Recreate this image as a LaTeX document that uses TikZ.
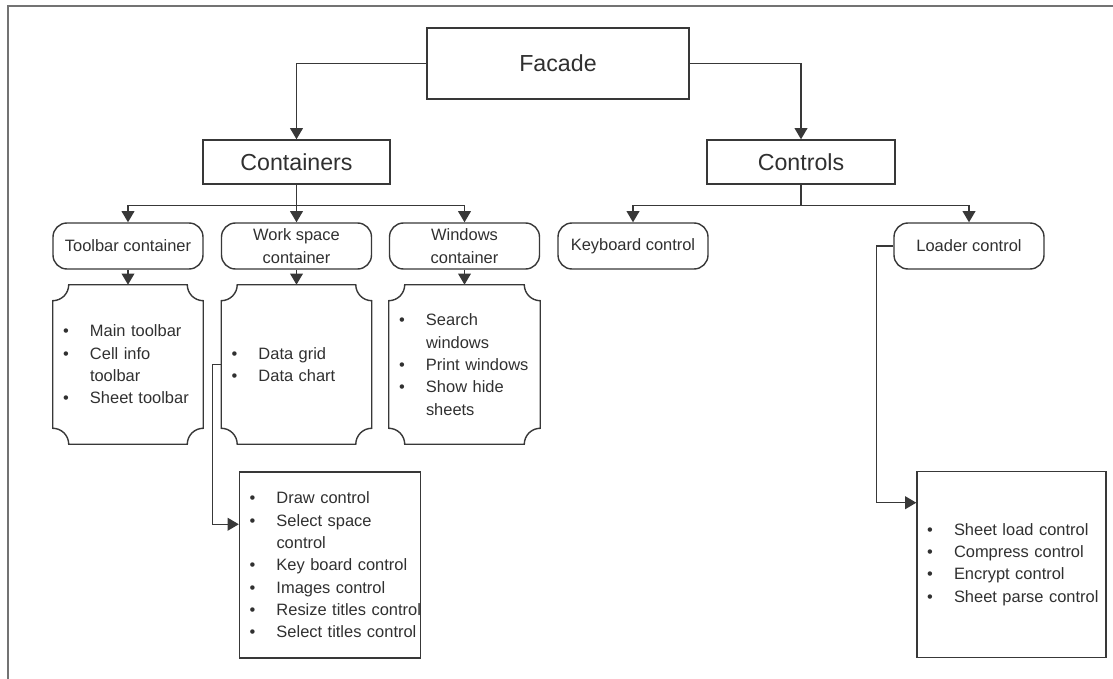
\documentclass[tikz,border=0pt]{standalone}
\usepackage{fontspec}
\setmainfont{Liberation Sans}
\usepackage{xcolor}
\usetikzlibrary{arrows.meta, positioning, calc}

\definecolor{ink}{HTML}{303030}
\definecolor{edge}{HTML}{383838}

% one list line: bullet, then text; and a wrapped continuation line
\newcommand{\bitem}[1]{\mbox{\makebox[0.675cm][l]{\textbullet}#1}}
\newcommand{\bcont}[1]{\mbox{\hspace*{0.675cm}#1}}

\begin{document}
\begin{tikzpicture}[
    title/.style={rectangle, draw=edge, line width=1pt, fill=white, text=ink, inner sep=0pt, font=\fontsize{16.5}{20}\selectfont},
    part/.style={rectangle, rounded corners=0.35cm, draw=edge, line width=1pt, fill=white, text=ink, minimum width=3.75cm, minimum height=1.15cm, inner sep=0pt, align=center, font=\fontsize{11.7}{16}\selectfont},
    items/.style={rectangle, text=ink, inner xsep=0.25cm, inner ysep=0pt, align=left, font=\fontsize{11.7}{15.9}\selectfont},
    arrow/.style={-{Triangle[length=0.28cm, width=0.32cm]}, line width=1pt, draw=edge},
    frame/.style={draw=black!55, line width=1.3pt}
]
    \useasboundingbox (0,0) rectangle (27.825,-16.975);
    \draw[frame] (0.2,-16.975) |- (27.825,-0.15);

    % Top level
    \node[title, minimum width=6.55cm, minimum height=1.775cm] (facade) at (13.95,-1.5875) {Facade};
    \node[title, minimum width=4.675cm, minimum height=1.1cm] (cont) at (7.4125,-4.05) {Containers};
    \node[title, minimum width=4.7cm, minimum height=1.1cm] (ctrl) at (20.025,-4.05) {Controls};

    % Containers
    \node[part] (tb) at (3.2,-6.15) {Toolbar container};
    \node[part] (ws) at (7.4125,-6.15) {Work space\\container};
    \node[part] (wn) at (11.6125,-6.15) {Windows\\container};

    % Controls
    \node[part] (kb) at (15.825,-6.15) {Keyboard control};
    \node[part] (ld) at (24.225,-6.15) {Loader control};

    % Item lists
    \node[items, text width=3.25cm, minimum height=3.975cm, below=0.375cm of tb] (tbl)
        {\bitem{Main toolbar}\\\bitem{Cell info}\\\bcont{toolbar}\\\bitem{Sheet toolbar}};
    \node[items, text width=3.25cm, minimum height=3.975cm, below=0.375cm of ws] (wsl)
        {\bitem{Data grid}\\\bitem{Data chart}};
    \node[items, text width=3.275cm, minimum height=3.975cm, below=0.375cm of wn] (wnl)
        {\bitem{Search}\\\bcont{windows}\\\bitem{Print windows}\\\bitem{Show hide}\\\bcont{sheets}};
    \node[items, draw=edge, line width=1pt, text width=4.025cm, minimum height=4.65cm, below=0.675cm of wsl, xshift=0.8375cm] (wsd)
        {\bitem{Draw control}\\\bitem{Select space}\\\bcont{control}\\\bitem{Key board control}\\\bitem{Images control}\\\bitem{Resize titles control}\\\bitem{Select titles control}};
    \node[items, draw=edge, line width=1pt, text width=4.225cm, minimum height=4.65cm, below=5.025cm of ld, xshift=1.0625cm] (ldd)
        {\bitem{Sheet load control}\\\bitem{Compress control}\\\bitem{Encrypt control}\\\bitem{Sheet parse control}};

    % Scroll outlines
    \foreach \n in {tbl, wsl, wnl} {
        \draw[draw=edge, line width=1pt]
            ([yshift=-0.4cm]\n.north west) arc[start angle=-90, end angle=0, radius=0.4cm]
            -- ([xshift=-0.4cm]\n.north east) arc[start angle=180, end angle=270, radius=0.4cm]
            -- ([yshift=0.4cm]\n.south east) arc[start angle=90, end angle=180, radius=0.4cm]
            -- ([xshift=0.4cm]\n.south west) arc[start angle=0, end angle=90, radius=0.4cm]
            -- cycle;
    }

    % Facade
    \draw[arrow] (facade.west) -| (cont.north);
    \draw[arrow] (facade.east) -| (ctrl.north);

    % Containers
    \draw[arrow] (cont.south) -- ++(0,-0.525) -| (tb.north);
    \draw[arrow] (cont.south) -- (ws.north);
    \draw[arrow] (cont.south) -- ++(0,-0.525) -| (wn.north);

    % Controls
    \draw[arrow] (ctrl.south) -- ++(0,-0.525) -| (kb.north);
    \draw[arrow] (ctrl.south) -- ++(0,-0.525) -| (ld.north);

    % Lists
    \foreach \a/\b in {tb/tbl, ws/wsl, wn/wnl}
        \draw[arrow] (\a.south) -- (\b.north);
    \draw[arrow] (wsl.west) -- ++(-0.225,0) |- ([yshift=-1.325cm]wsd.north west);
    \draw[arrow] (ld.west) -- ++(-0.425,0) |- ([yshift=-0.8cm]ldd.north west);

\end{tikzpicture}
\end{document}
